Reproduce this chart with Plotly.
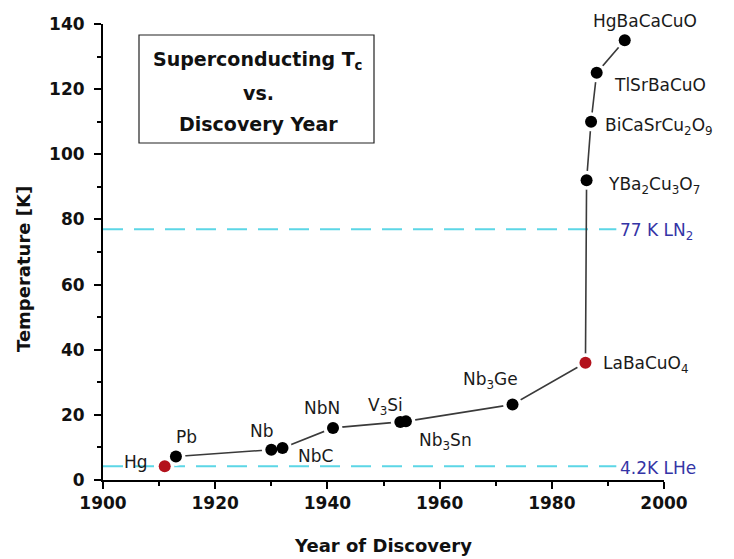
import plotly.graph_objects as go

# === 数据 ===
years = [1911, 1913, 1930, 1932, 1941, 1953, 1954, 1973, 1986, 1986.2, 1987, 1988, 1993]
tc = [4.2, 7.2, 9.3, 9.8, 16, 17.8, 18, 23.2, 36, 92, 110, 125, 135]
names = ["Hg", "Pb", "Nb", "NbC", "NbN", "V<sub>3</sub>Si", "Nb<sub>3</sub>Sn",
         "Nb<sub>3</sub>Ge", "LaBaCuO<sub>4</sub>", "YBa<sub>2</sub>Cu<sub>3</sub>O<sub>7</sub>",
         "BiCaSrCu<sub>2</sub>O<sub>9</sub>", "TlSrBaCuO", "HgBaCaCuO"]
red_idx = [0, 8]
ref_levels = [77, 4.2]
ref_labels = ["77 K LN<sub>2</sub>", "4.2K LHe"]
ref_span = [1900, 1991.5]

# 标签偏移（像素，dy 向下为正）与锚点
label_pos = [
    (-15, -4, "right"), (11, -20, "center"), (-9, -19, "center"), (33, 8, "center"),
    (-11, -20, "center"), (-15, -16, "center"), (11, 20, "left"), (-22, -24, "center"),
    (16, 2, "left"), (19, 5, "left"), (12, 5, "left"), (15, 12, "left"), (20, -19, "center"),
]

FONT = "DejaVu Sans, Verdana, sans-serif"
TEXT_COLOR = "#1a1a1a"

fig = go.Figure()

# 参考线（液氦 / 液氮）
for lvl in ref_levels:
    fig.add_trace(go.Scatter(
        x=ref_span, y=[lvl, lvl], mode="lines",
        line=dict(color="#5cd6e6", width=2, dash="20px,11px"),
        hoverinfo="skip", showlegend=False,
    ))

fig.add_trace(go.Scatter(
    x=years, y=tc, mode="lines",
    line=dict(color="#3a3a3a", width=1.6),
    hoverinfo="skip", showlegend=False,
))
# 白色光晕：让折线在点附近断开
fig.add_trace(go.Scatter(
    x=years, y=tc, mode="markers",
    marker=dict(size=19, color="white"),
    hoverinfo="skip", showlegend=False,
))
colors = ["#b3121c" if i in red_idx else "#000000" for i in range(len(years))]
fig.add_trace(go.Scatter(
    x=years, y=tc, mode="markers",
    marker=dict(size=12, color=colors),
    showlegend=False,
))

for i, (x, y, name) in enumerate(zip(years, tc, names)):
    dx, dy, anchor = label_pos[i]
    fig.add_annotation(
        x=x, y=y, text=name, showarrow=False,
        xshift=dx, yshift=-dy, xanchor=anchor, yanchor="middle",
        font=dict(family=FONT, size=17, color=TEXT_COLOR),
    )

for lvl, lab in zip(ref_levels, ref_labels):
    fig.add_annotation(
        x=ref_span[1], y=lvl, text=lab, showarrow=False,
        xanchor="left", yanchor="middle", xshift=2, yshift=-2,
        font=dict(family=FONT, size=17, color="#3434a6"),
    )

# 标题框
PX0, PY0, PW, PH = 103, 24, 561, 456


def px_to_paper(xp, yp):
    return (xp - PX0) / PW, (PY0 + PH - yp) / PH


bx0, by0 = px_to_paper(139, 143)
bx1, by1 = px_to_paper(374, 35)
fig.add_shape(type="rect", xref="paper", yref="paper",
              x0=bx0, x1=bx1, y0=by0, y1=by1,
              line=dict(color="#222222", width=1.2))
box_lines = ["<b>Superconducting T<sub>c</sub></b>", "<b>vs.</b>", "<b>Discovery Year</b>"]
box_y = [60, 93, 124]
for txt, yp in zip(box_lines, box_y):
    ax, ay = px_to_paper(258, yp)
    fig.add_annotation(
        xref="paper", yref="paper", x=ax, y=ay, text=txt,
        showarrow=False, xanchor="center", yanchor="middle",
        font=dict(family=FONT, size=19, color="#111111"),
    )

# 纵轴标题（手动定位，略低于绘图区中心）
tx, ty = px_to_paper(23, 269)
fig.add_annotation(
    xref="paper", yref="paper", x=tx, y=ty, text="<b>Temperature [K]</b>",
    textangle=-90, showarrow=False, xanchor="center", yanchor="middle",
    font=dict(family=FONT, size=18, color="#111111"),
)

fig.update_layout(
    width=734, height=559,
    margin=dict(l=PX0 - 8, r=734 - PX0 - PW + 8, t=PY0 - 8, b=559 - PY0 - PH + 8),
    paper_bgcolor="white", plot_bgcolor="white",
    font=dict(family=FONT, color=TEXT_COLOR),
)
axis_common = dict(
    showgrid=False, zeroline=False, showline=True, linecolor="black", linewidth=2,
    ticks="outside", ticklen=7, tickwidth=2, tickcolor="black", automargin=False,
    tickfont=dict(family=FONT, size=17, color="#111111", weight="bold"),
    minor=dict(ticks="outside", ticklen=4, tickwidth=1.5, tickcolor="black", dtick=10),
)
fig.update_xaxes(range=[1900, 2000], dtick=20, **axis_common,
                 title=dict(text="<b>Year of Discovery</b>",
                            font=dict(family=FONT, size=18, color="#111111"), standoff=27))
fig.update_yaxes(range=[0, 140], dtick=20, ticklabelstandoff=6, **axis_common)

fig.write_html("out.html")
